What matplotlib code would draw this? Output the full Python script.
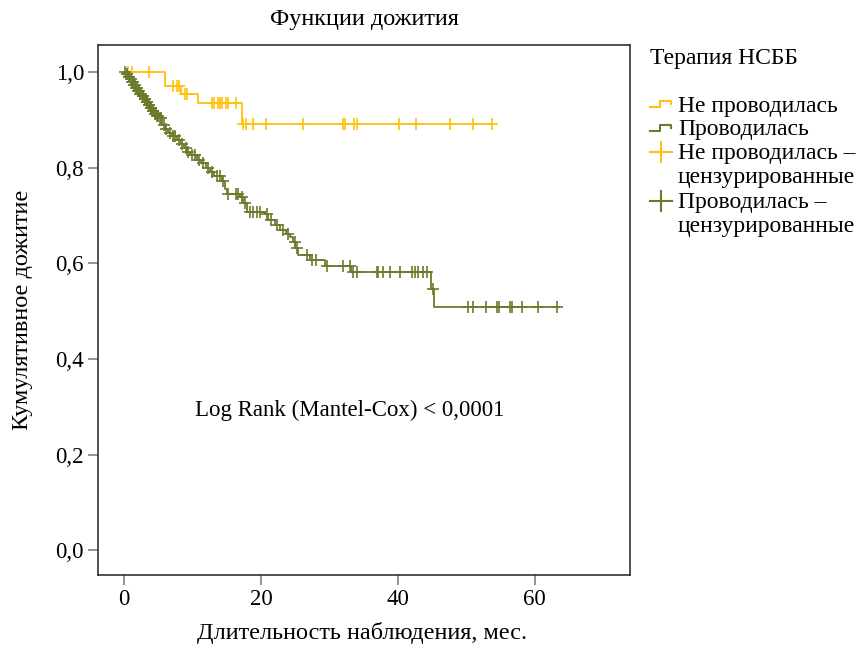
import numpy as np
import matplotlib
matplotlib.use("Agg")
import matplotlib.pyplot as plt
from matplotlib.lines import Line2D

plt.rcParams['font.family'] = ['Liberation Serif', 'DejaVu Serif']

# --- data ---
# group without therapy (yellow): event times and survival after each step
no_times = [6.0, 8.3, 10.75, 17.3]
no_surv = [0.971, 0.954, 0.9345, 0.891]
no_end = 53.8
no_cens = [0.6, 1.2, 3.6, 7.2, 7.7, 8.0, 8.9, 9.2,
           12.8, 13.2, 13.7, 14.0, 14.3, 14.9, 15.2, 16.4,
           17.4, 17.8, 18.9, 20.8, 26.2, 32.0, 32.3, 33.6, 34.1,
           40.2, 42.7, 47.6, 51.0, 53.8]

# group with therapy (olive)
yes_times = [0.3, 0.6, 0.9, 1.1, 1.4, 1.7, 2.0, 2.3, 2.6, 2.9, 3.2, 3.5,
             3.8, 4.1, 4.4, 4.7, 5.0, 5.6, 6.0, 6.4, 7.0, 7.8, 8.3, 8.8,
             9.2, 9.6, 10.6, 11.2, 12.0, 12.6, 13.2, 14.3, 14.7, 15.0,
             17.0, 17.4, 18.0, 20.6, 21.1, 22.0, 22.8, 23.7, 24.2, 24.7,
             25.0, 25.4, 27.2, 29.3, 33.2, 44.8, 45.3]
yes_surv = [0.995, 0.990, 0.985, 0.979, 0.973, 0.967, 0.961, 0.955, 0.949,
            0.943, 0.937, 0.931, 0.925, 0.919, 0.913, 0.908, 0.903, 0.890,
            0.880, 0.872, 0.866, 0.858, 0.850, 0.842, 0.832, 0.826, 0.816,
            0.810, 0.800, 0.790, 0.782, 0.772, 0.755, 0.745, 0.739, 0.725,
            0.708, 0.702, 0.690, 0.680, 0.670, 0.662, 0.655, 0.645, 0.632,
            0.617, 0.607, 0.594, 0.582, 0.547, 0.509]
yes_end = 63.6
yes_cens = [0.2, 0.4, 0.5, 0.7, 0.8, 1.0, 1.2, 1.3, 1.5, 1.6, 1.8, 1.9,
            2.1, 2.2, 2.4, 2.5, 2.7, 2.8, 3.0, 3.1, 3.3, 3.4, 3.6, 3.7,
            3.9, 4.0, 4.2, 4.3, 4.5, 4.6, 4.8, 4.9, 5.2, 5.4, 5.8, 6.2,
            6.7, 7.2, 7.5, 8.0, 8.5, 9.0, 9.4, 10.0, 10.3, 10.9, 11.5,
            12.3, 12.9, 13.6, 14.0, 14.5, 15.2, 16.4, 16.7, 17.2, 17.7,
            18.4, 18.9, 19.4, 19.9, 20.9, 21.5, 22.4, 23.2, 24.0, 24.9,
            25.2, 26.7, 27.5, 28.1, 29.6, 32.0, 33.0, 33.5, 34.0, 36.9,
            37.1, 37.8, 38.8, 40.3, 42.1, 42.5, 43.0, 43.7, 44.2, 45.1,
            50.3, 50.9, 52.8, 54.5, 54.7, 56.4, 56.7, 58.1, 60.5, 63.2]

YELLOW = '#FFC20E'
OLIVE = '#6B7B2C'


def step_xy(times, surv, end):
    x = np.r_[0.0, times, end]
    y = np.r_[1.0, surv, surv[-1]]
    return x, y


def surv_at(times, surv, t):
    idx = np.searchsorted(times, t, side='right')
    return np.r_[1.0, surv][idx]


fig = plt.figure(figsize=(8.66, 6.45), dpi=100)
ax = fig.add_axes([98 / 866, 1 - 575 / 645, 532 / 866, 530 / 645])

for times, surv, end, cens, col in [
        (no_times, no_surv, no_end, no_cens, YELLOW),
        (yes_times, yes_surv, yes_end, yes_cens, OLIVE)]:
    x, y = step_xy(times, surv, end)
    ax.step(x, y, where='post', color=col, lw=1.3, zorder=2)
    ax.plot(cens, surv_at(np.array(times), np.array(surv), np.array(cens)),
            ls='none', marker='+', ms=9, mew=1.2, color=col, zorder=3)

ax.set_xlim(-3.8, 73.9)
ax.set_ylim(-0.052, 1.0565)
ax.set_xticks([0, 20, 40, 60])
ax.set_yticks([0.0, 0.2, 0.4, 0.6, 0.8, 1.0])
ax.set_yticklabels(['0,0', '0,2', '0,4', '0,6', '0,8', '1,0'])
ax.tick_params(direction='out', length=7, width=1.2, color='#808080',
               labelsize=16.5, pad=3)
for s in ax.spines.values():
    s.set_color('#222222')
    s.set_linewidth(1.1)


def fx(px):
    return px / 866


def fy(py):
    return 1 - py / 645


fig.text(fx(364), fy(19), 'Функции дожития', fontsize=17.5,
         ha='center', va='center')
ax.set_xlabel('Длительность наблюдения, мес.', fontsize=17.5)
ax.xaxis.set_label_coords(0.496, (575 - 633) / 530)
ax.xaxis.label.set_va('center')
ax.set_ylabel('Кумулятивное дожитие', fontsize=17.5)
ax.yaxis.set_label_coords((23 - 98) / 532, 0.5)
ax.yaxis.label.set_va('center')

ax.text(33, 0.293, 'Log Rank (Mantel-Cox) < 0,0001', fontsize=16.5,
        ha='center', va='center')

# legend drawn by hand to keep the marker on the first line of two-line labels
fig.text(fx(650), fy(64), 'Терапия НСББ', fontsize=17, va='baseline',
         ha='left')
leg_items = [
    ('step', YELLOW, ['Не проводилась'], 104, [112]),
    ('step', OLIVE, ['Проводилась'], 128, [135]),
    ('plus', YELLOW, ['Не проводилась –', 'цензурированные'], 152, [159, 183]),
    ('plus', OLIVE, ['Проводилась –', 'цензурированные'], 201, [208, 232]),
]
for kind, col, lines, py, bases in leg_items:
    if kind == 'step':
        xs = [650, 660, 660, 671, 671]
        ys = [py + 3, py + 3, py - 3, py - 3, py]
        fig.add_artist(Line2D([fx(v) for v in xs], [fy(v) for v in ys],
                              color=col, lw=1.5, transform=fig.transFigure))
    else:
        fig.add_artist(Line2D([fx(650), fx(672)], [fy(py), fy(py)],
                              color=col, lw=1.5, transform=fig.transFigure))
        fig.add_artist(Line2D([fx(661), fx(661)], [fy(py - 10), fy(py + 10)],
                              color=col, lw=1.5, transform=fig.transFigure))
    for txt, b in zip(lines, bases):
        fig.text(fx(678), fy(b), txt, fontsize=17, va='baseline', ha='left')

fig.savefig('out.png', dpi=100)
